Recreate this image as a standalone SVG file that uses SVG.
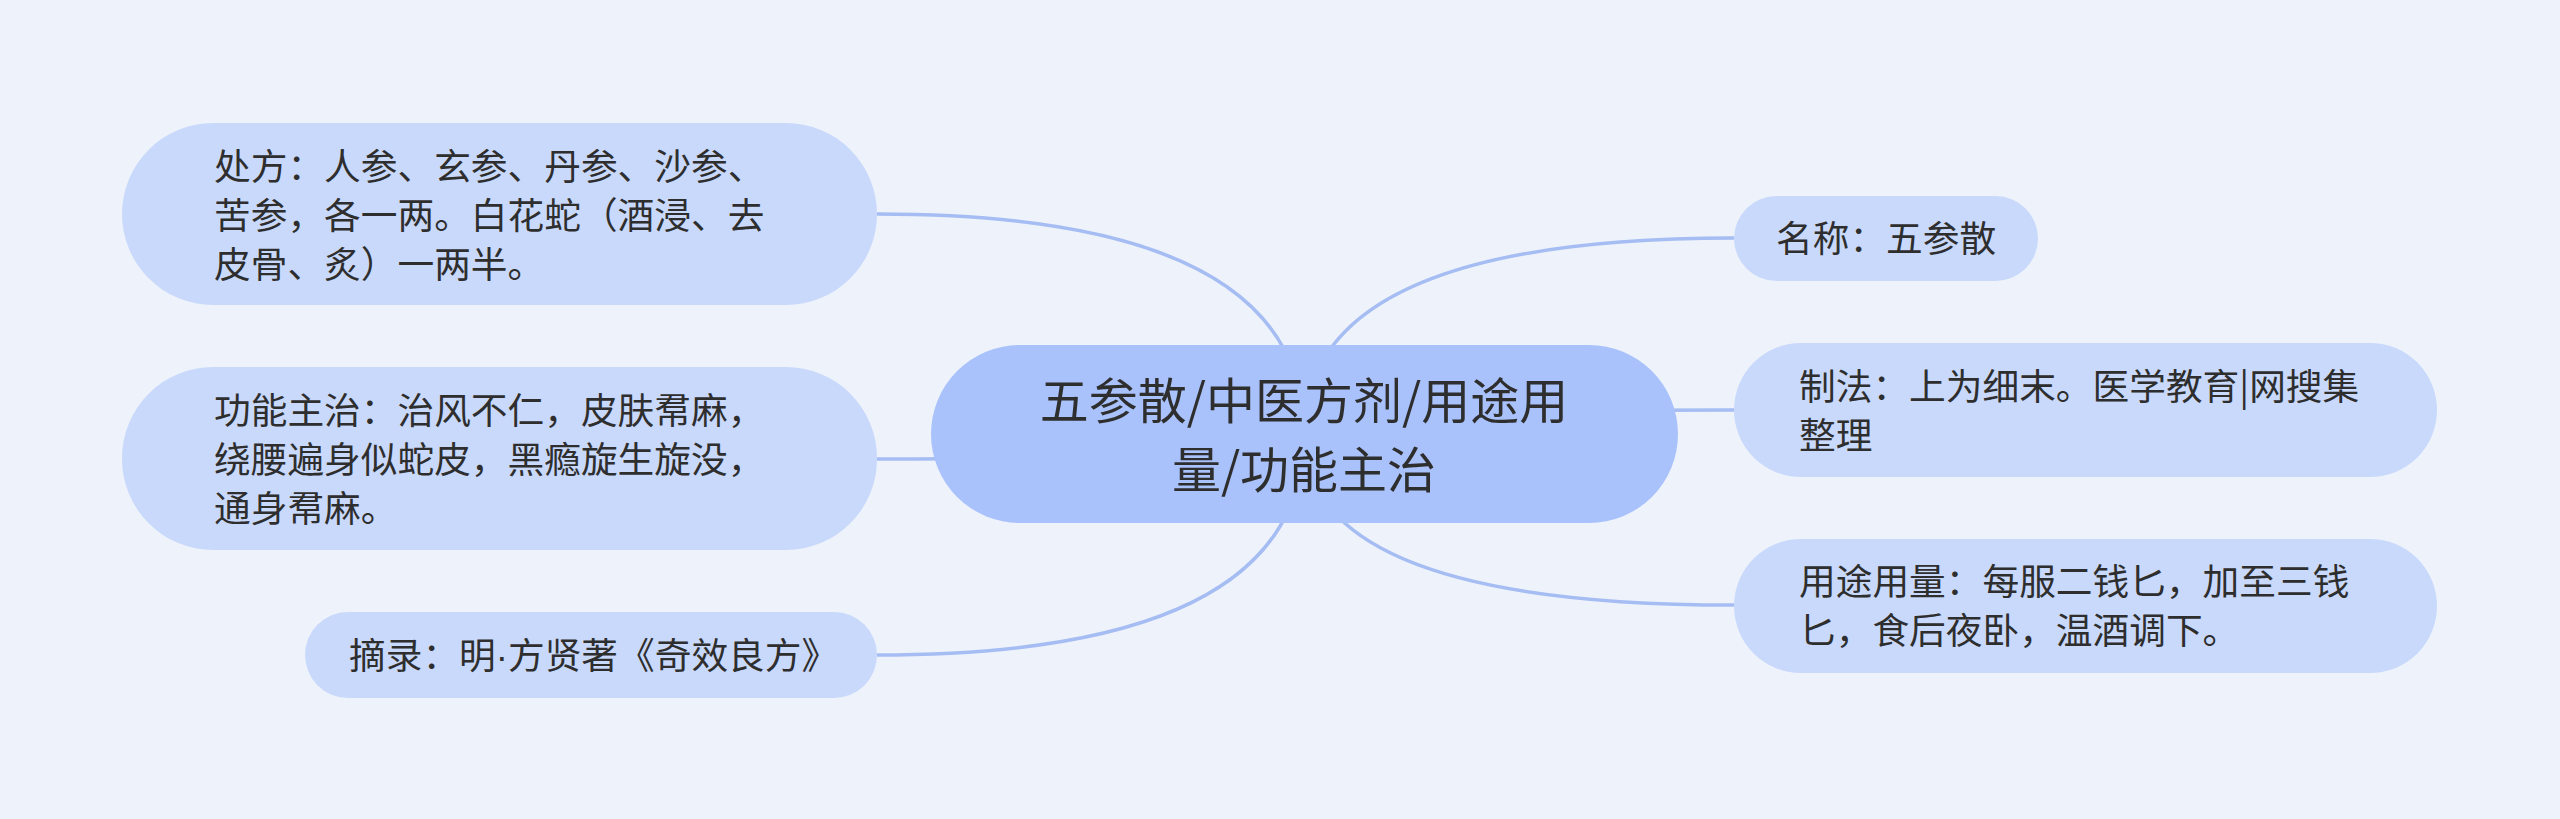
<svg xmlns="http://www.w3.org/2000/svg" width="2560" height="819" viewBox="0 0 2560 819">
  <style>
    .bg { fill: #eef3fb; }
    .child { fill: #c9d9fb; }
    .root { fill: #a9c2fb; }
    .link { fill: none; stroke: #a6bdf3; stroke-width: 3.5; }
    .t { font-family: "Noto Sans CJK SC", "Noto Sans", sans-serif; fill: #2e2e2e; font-size: 36.7px; }
    .rt { font-family: "Noto Sans CJK SC", "Noto Sans", sans-serif; fill: #2e2e2e; font-size: 49px; text-anchor: middle; }
    .dot { font-family: "Liberation Sans", sans-serif; }
  </style>
  <rect class="bg" x="0" y="0" width="2560" height="819"/>

  <g id="connectors">
    <path class="link" d="M1304,434 Q1304,238 1734,238"/>
    <path class="link" d="M1304,434 Q1304,410 1734,410"/>
    <path class="link" d="M1304,434 Q1304,605 1734,605"/>
    <path class="link" d="M1304,434 Q1304,214 877,214"/>
    <path class="link" d="M1304,434 Q1304,459 877,459"/>
    <path class="link" d="M1304,434 Q1304,655 877,655"/>
  </g>

  <g id="root">
    <rect class="root" x="931" y="345" width="747" height="178" rx="89"/>
    <text class="rt" x="1304" y="418.6">五参散/中医方剂/用途用</text>
    <text class="rt" x="1304" y="487.6">量/功能主治</text>
  </g>

  <g id="node-chufang">
    <rect class="child" x="122" y="123" width="755" height="182" rx="91"/>
    <text class="t" x="214" y="180">处方：人参、玄参、丹参、沙参、</text>
    <text class="t" x="214" y="229">苦参，各一两。白花蛇（酒浸、去</text>
    <text class="t" x="214" y="278">皮骨、炙）一两半。</text>
  </g>

  <g id="node-gongneng">
    <rect class="child" x="122" y="367" width="755" height="183" rx="91"/>
    <text class="t" x="214" y="424">功能主治：治风不仁，皮肤帬麻，</text>
    <text class="t" x="214" y="473">绕腰遍身似蛇皮，黑瘾旋生旋没，</text>
    <text class="t" x="214" y="522">通身帬麻。</text>
  </g>

  <g id="node-zhailu">
    <rect class="child" x="305" y="612" width="572" height="86" rx="43"/>
    <text class="t" x="349" y="669">摘录：明<tspan class="dot">·</tspan>方贤著《奇效良方》</text>
  </g>

  <g id="node-mingcheng">
    <rect class="child" x="1734" y="196" width="304" height="85" rx="42.5"/>
    <text class="t" x="1776" y="252">名称：五参散</text>
  </g>

  <g id="node-zhifa">
    <rect class="child" x="1734" y="343" width="703" height="134" rx="67"/>
    <text class="t" x="1799" y="399.5">制法：上为细末。医学教育|网搜集</text>
    <text class="t" x="1799" y="448.5">整理</text>
  </g>

  <g id="node-yongtu">
    <rect class="child" x="1734" y="539" width="703" height="134" rx="67"/>
    <text class="t" x="1799" y="595">用途用量：每服二钱匕，加至三钱</text>
    <text class="t" x="1799" y="644">匕，食后夜卧，温酒调下。</text>
  </g>
</svg>
